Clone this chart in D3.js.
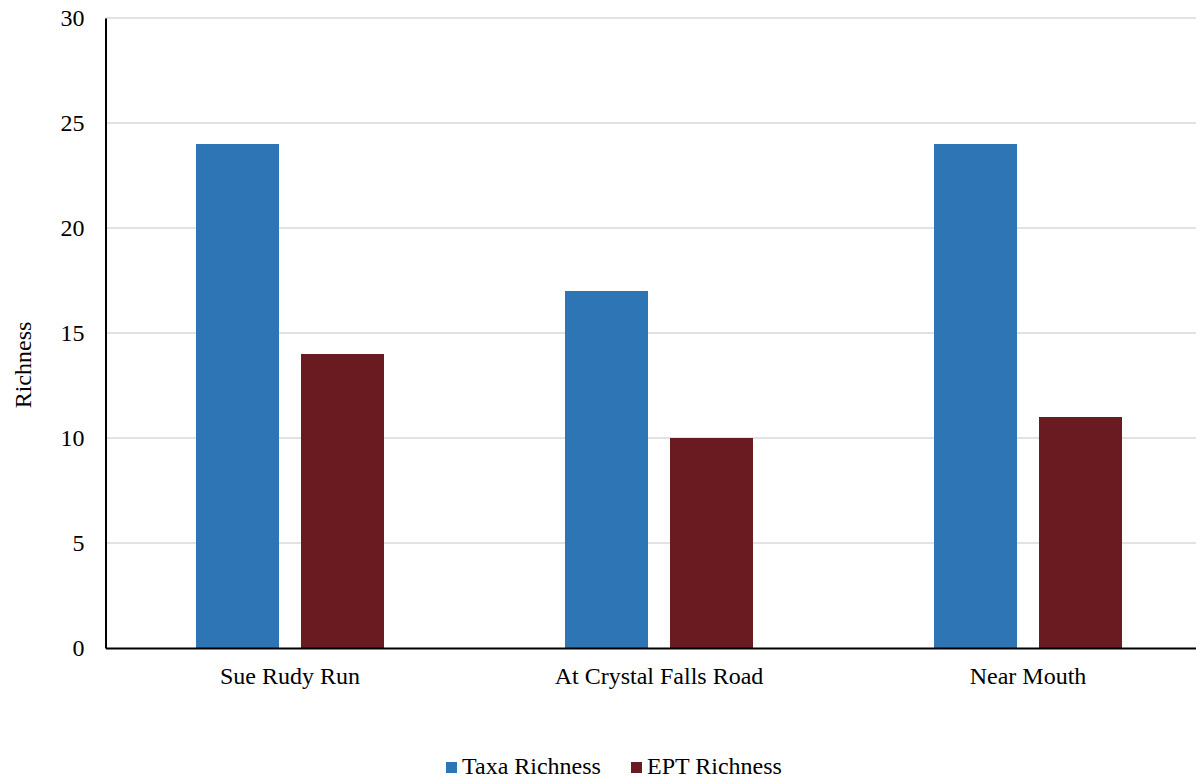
<!DOCTYPE html>
<html>
<head>
<meta charset="utf-8">
<script src="https://cdn.jsdelivr.net/npm/d3@7"></script>
<style>
  html, body { margin: 0; padding: 0; background: #fff; }
  svg { display: block; font-family: "Liberation Serif", "Times New Roman", serif; }
</style>
</head>
<body>
<svg id="chart" width="1196" height="780"></svg>
<script>
// Benthic macroinvertebrate richness by sampling site
const sites = ["Sue Rudy Run", "At Crystal Falls Road", "Near Mouth"];
const seriesNames = ["Taxa Richness", "EPT Richness"];
const taxaRichness = [24, 17, 24];
const eptRichness = [14, 10, 11];
const yTicks = [0, 5, 10, 15, 20, 25, 30];
const colors = ["#2E75B6", "#6A1A21"];

const FONT = 24;
const svg = d3.select("#chart");
const margin = { left: 105.5, top: 18, bottom: 648, right: 1212.5 };

const x = d3.scaleBand()
  .domain(sites)
  .range([margin.left, margin.right])
  .paddingInner(0)
  .paddingOuter(0);

const step = x.bandwidth();
const groupWidth = 188;
const x1 = d3.scaleBand()
  .domain(seriesNames)
  .range([(step - groupWidth) / 2, (step + groupWidth) / 2])
  .paddingInner(22 / 105)
  .paddingOuter(0);

const y = d3.scaleLinear().domain([0, 30]).range([margin.bottom, margin.top]);

// gridlines
svg.append("g")
  .selectAll("line")
  .data(yTicks.filter(d => d > 0))
  .join("line")
  .attr("x1", margin.left)
  .attr("x2", margin.right)
  .attr("y1", d => y(d))
  .attr("y2", d => y(d))
  .attr("stroke", "#d9d9d9")
  .attr("stroke-width", 1.5);

// bars
const rows = sites.map((s, i) => ({ site: s, values: [taxaRichness[i], eptRichness[i]] }));
const groups = svg.append("g")
  .selectAll("g")
  .data(rows)
  .join("g")
  .attr("transform", d => `translate(${x(d.site)},0)`);

groups.selectAll("rect")
  .data(d => d.values.map((v, j) => ({ key: seriesNames[j], value: v, j })))
  .join("rect")
  .attr("x", d => x1(d.key))
  .attr("width", x1.bandwidth())
  .attr("y", d => y(d.value))
  .attr("height", d => y(0) - y(d.value))
  .attr("fill", d => colors[d.j]);

// y axis
const yAxis = d3.axisLeft(y).tickValues(yTicks).tickSize(0).tickPadding(21);
const gy = svg.append("g")
  .attr("transform", `translate(${margin.left},0)`)
  .call(yAxis);
gy.select(".domain").attr("stroke", "#000").attr("stroke-width", 2);
gy.selectAll("text").attr("font-size", FONT).attr("fill", "#000")
  .attr("font-family", "Liberation Serif, Times New Roman, serif");

// x axis
const xAxis = d3.axisBottom(x).tickSize(0).tickPadding(19);
const gx = svg.append("g")
  .attr("transform", `translate(0,${margin.bottom})`)
  .call(xAxis);
gx.select(".domain").attr("stroke", "#000").attr("stroke-width", 2);
gx.selectAll("text").attr("font-size", FONT).attr("fill", "#000")
  .attr("font-family", "Liberation Serif, Times New Roman, serif");

// y axis title
svg.append("text")
  .attr("transform", `translate(31,365) rotate(-90)`)
  .attr("text-anchor", "middle")
  .attr("font-size", FONT)
  .attr("fill", "#000")
  .text("Richness");

// legend, kept just inside the bottom edge
const legend = svg.append("g").attr("transform", "translate(0,767)");
const legendX = [446, 631];
seriesNames.forEach((name, i) => {
  legend.append("rect")
    .attr("x", legendX[i])
    .attr("y", -5)
    .attr("width", 11)
    .attr("height", 11)
    .attr("fill", colors[i]);
  legend.append("text")
    .attr("x", legendX[i] + 16)
    .attr("y", 7)
    .attr("font-size", FONT)
    .attr("fill", "#000")
    .text(name);
});
</script>
</body>
</html>
